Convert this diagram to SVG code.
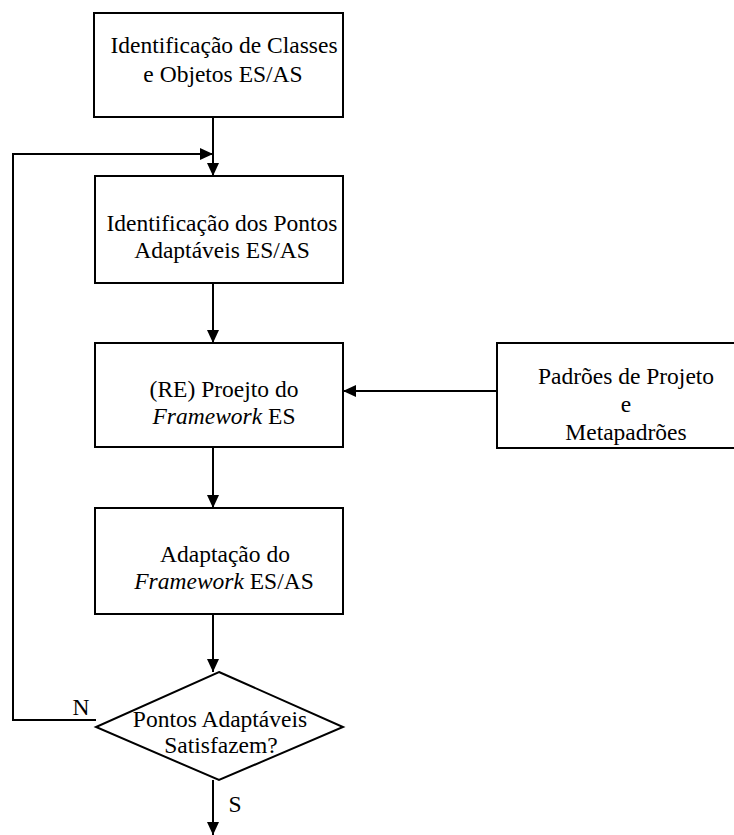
<svg xmlns="http://www.w3.org/2000/svg" width="734" height="835" viewBox="0 0 734 835">
  <style>
    .box { fill: #ffffff; stroke: #000000; stroke-width: 2; }
    .line { fill: none; stroke: #000000; stroke-width: 2; }
    text { font-family: 'Liberation Serif', 'DejaVu Serif', serif; font-size: 23.5px; fill: #000000; text-anchor: middle; }
    .it { font-style: italic; }
  </style>
  <defs>
    <marker id="arrow" viewBox="0 0 13 12" refX="13" refY="6" markerWidth="13" markerHeight="12" markerUnits="userSpaceOnUse" orient="auto">
      <path d="M0,0 L13,6 L0,12 Z" fill="#000000"/>
    </marker>
  </defs>

  <rect width="734" height="835" fill="#ffffff"/>

  <g id="connectors">
    <line class="line" x1="213" y1="117" x2="213" y2="176" marker-end="url(#arrow)"/>
    <polyline class="line" points="96,720 13,720 13,154 213,154" marker-end="url(#arrow)"/>
    <line class="line" x1="213" y1="283" x2="213" y2="343" marker-end="url(#arrow)"/>
    <line class="line" x1="497" y1="391" x2="343" y2="391" marker-end="url(#arrow)"/>
    <line class="line" x1="213" y1="447" x2="213" y2="508" marker-end="url(#arrow)"/>
    <line class="line" x1="213" y1="614" x2="213" y2="672" marker-end="url(#arrow)"/>
    <line class="line" x1="213" y1="780" x2="213" y2="835" marker-end="url(#arrow)"/>
    <text font-family="Liberation Serif, serif" x="81" y="715">N</text>
    <text font-family="Liberation Serif, serif" x="235" y="812">S</text>
  </g>

  <g id="node-identificacao-classes" font-family="Liberation Serif, serif">
    <rect class="box" x="94" y="13" width="249" height="104"/>
    <text x="224" y="53">Identificação de Classes</text>
    <text x="223" y="82">e Objetos ES/AS</text>
  </g>

  <g id="node-pontos-adaptaveis">
    <rect class="box" x="95" y="176" width="248" height="107"/>
    <text x="222" y="231">Identificação dos Pontos</text>
    <text x="222" y="258">Adaptáveis ES/AS</text>
  </g>

  <g id="node-projeto-framework">
    <rect class="box" x="95" y="343" width="248" height="104"/>
    <text x="224" y="397">(RE) Proejto do</text>
    <text x="224" y="424"><tspan class="it">Framework</tspan> ES</text>
  </g>

  <g id="node-padroes">
    <rect class="box" x="497" y="343" width="300" height="105"/>
    <text x="626" y="384">Padrões de Projeto</text>
    <text x="626" y="412">e</text>
    <text x="626" y="440">Metapadrões</text>
  </g>

  <g id="node-adaptacao">
    <rect class="box" x="95" y="508" width="248" height="106"/>
    <text x="225" y="562">Adaptação do</text>
    <text x="224" y="589"><tspan class="it">Framework</tspan> ES/AS</text>
  </g>

  <g id="node-decisao">
    <polygon class="box" points="219,672 343,727 219,780 96,727"/>
    <text x="220" y="727">Pontos Adaptáveis</text>
    <text x="221" y="753">Satisfazem?</text>
  </g>
</svg>
